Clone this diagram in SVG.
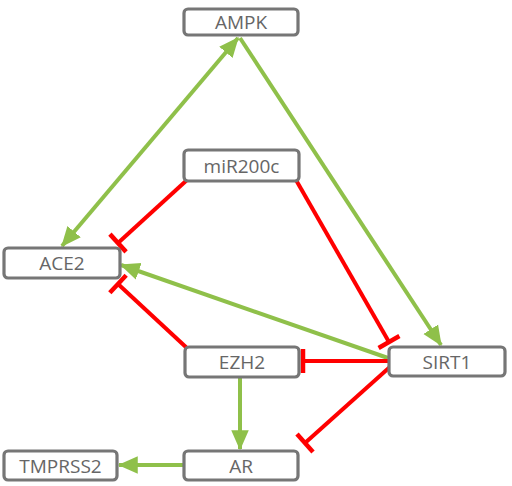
<svg xmlns="http://www.w3.org/2000/svg" width="512" height="486" viewBox="0 0 512 486">
<defs>
<style>
.box{fill:#fff;stroke:#767676;stroke-width:3.2}
.lbl{font-family:"Open Sans","Liberation Sans",sans-serif;font-size:19px;fill:#666;text-anchor:middle;dominant-baseline:central}
.act{stroke:#8fc04a;stroke-width:4;fill:none}
.inh{stroke:#ff0000;stroke-width:4;fill:none}
</style>
<marker id="arr" markerUnits="userSpaceOnUse" markerWidth="20" markerHeight="20" viewBox="0 -8 16 16" refX="15" refY="0" orient="auto-start-reverse">
<path d="M0,-7 L16,0 L0,7 Z" fill="#8fc04a"/>
</marker>
<marker id="tee" markerUnits="userSpaceOnUse" markerWidth="8" markerHeight="28" viewBox="-4 -14 8 28" refX="0" refY="0" orient="auto">
<path d="M0,-12 L0,12" stroke="#ff0000" stroke-width="4.5"/>
</marker>
</defs>
<g id="connectors">
<line class="act" x1="238" y1="38" x2="62" y2="246" marker-start="url(#arr)" marker-end="url(#arr)"/>
<line class="act" x1="240" y1="38" x2="441" y2="345" marker-end="url(#arr)"/>
<line class="act" x1="388" y1="358" x2="121" y2="265" marker-end="url(#arr)"/>
<line class="act" x1="240" y1="378" x2="240" y2="449" marker-end="url(#arr)"/>
<line class="act" x1="184" y1="465" x2="119" y2="465" marker-end="url(#arr)"/>
<line class="inh" x1="187" y1="180" x2="118" y2="243" marker-end="url(#tee)"/>
<line class="inh" x1="296" y1="180" x2="389" y2="342" marker-end="url(#tee)"/>
<line class="inh" x1="188" y1="349" x2="118" y2="284" marker-end="url(#tee)"/>
<line class="inh" x1="389" y1="361" x2="303" y2="361" marker-end="url(#tee)"/>
<line class="inh" x1="391" y1="366" x2="305" y2="443" marker-end="url(#tee)"/>
</g>
<g id="AMPK"><rect class="box" x="184" y="9" width="114" height="26" rx="4"/><text class="lbl" x="241" y="22">AMPK</text></g>
<g id="miR200c"><rect class="box" x="184" y="150" width="115" height="31" rx="4"/><text class="lbl" x="241.5" y="165.5">miR200c</text></g>
<g id="ACE2"><rect class="box" x="4" y="248" width="116" height="30" rx="4"/><text class="lbl" x="62" y="263">ACE2</text></g>
<g id="EZH2"><rect class="box" x="185" y="347" width="114" height="30" rx="4"/><text class="lbl" x="242" y="362">EZH2</text></g>
<g id="SIRT1"><rect class="box" x="389" y="347" width="116" height="29" rx="4"/><text class="lbl" x="447" y="361.5">SIRT1</text></g>
<g id="AR"><rect class="box" x="184" y="451" width="114" height="29" rx="4"/><text class="lbl" x="241" y="465.5">AR</text></g>
<g id="TMPRSS2"><rect class="box" x="4" y="451" width="113" height="29" rx="4"/><text class="lbl" x="60.5" y="465.5">TMPRSS2</text></g>
</svg>
